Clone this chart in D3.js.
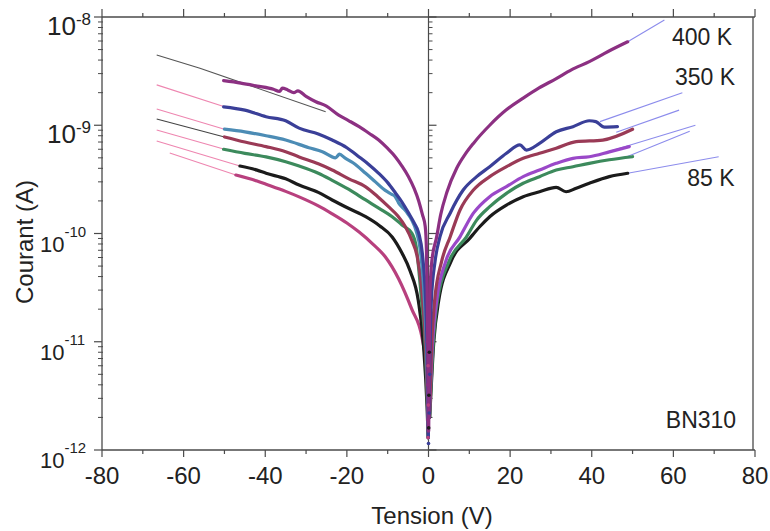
<!DOCTYPE html>
<html>
<head>
<meta charset="utf-8">
<script src="https://cdn.jsdelivr.net/npm/d3@7"></script>
<style>
  html, body { margin: 0; padding: 0; background: #fff; }
  svg { display: block; font-family: "Liberation Sans", Arial, sans-serif; }
</style>
</head>
<body>
<svg id="chart" width="770" height="531"></svg>
<script>
// ---------------- DATA ----------------
const xTicks = [-80, -60, -40, -20, 0, 20, 40, 60, 80];
const yDecades = [-8, -9, -10, -11, -12];
const xLabel = "Tension (V)";
const yLabel = "Courant (A)";
const tempLabels = ["400 K", "350 K", "85 K"];
const sampleLabel = "BN310";

// negative-voltage branches (V, I)
const neg400 = [[-50.2,2.58e-9],[-46,2.45e-9],[-42,2.3e-9],[-38,2.15e-9],[-36.5,2.05e-9],[-35.8,2.2e-9],[-34.5,2.12e-9],[-33,2.0e-9],[-32,2.08e-9],[-30,1.85e-9],[-27.6,1.65e-9],[-25,1.5e-9],[-22,1.24e-9],[-19.5,1.1e-9],[-17,9.7e-10],[-14.5,8.4e-10],[-12.2,7.3e-10],[-10,6.1e-10],[-8.1,5.1e-10],[-6.5,4.2e-10],[-4.9,3.35e-10],[-3.5,2.6e-10],[-2.4,2.0e-10],[-1.5,1.5e-10],[-0.8,1.16e-10],[-0.5,7e-11],[-0.3,2.4e-11],[-0.15,7e-12],[-0.05,1.5e-12]];
const negBlue = [[-50.2,1.48e-9],[-45,1.38e-9],[-39.8,1.2e-9],[-35,1.1e-9],[-31.7,9.4e-10],[-27,8.3e-10],[-23.6,7.3e-10],[-20,6.2e-10],[-17,5.1e-10],[-14.5,4.3e-10],[-12.2,3.6e-10],[-10,2.95e-10],[-8.1,2.37e-10],[-6.5,1.95e-10],[-4.9,1.55e-10],[-3.5,1.25e-10],[-2.4,1.01e-10],[-1.5,6.5e-11],[-0.7,2.4e-11],[-0.35,9e-12],[-0.1,2.5e-12],[-0.03,1.3e-12]];
const negLightBlue = [[-50,9.2e-10],[-45,8.7e-10],[-39.8,8.0e-10],[-35,7.3e-10],[-29.3,6.2e-10],[-26,5.7e-10],[-22.8,5.0e-10],[-21.8,5.4e-10],[-20.5,5.0e-10],[-18.5,4.5e-10],[-15.4,3.6e-10],[-13,3.0e-10],[-10.6,2.5e-10],[-9,2.3e-10],[-8.2,2.2e-10],[-7.3,1.91e-10],[-5.5,1.6e-10],[-4.1,1.33e-10],[-3,1.05e-10],[-2,7e-11],[-1.0,2.4e-11],[-0.5,9e-12],[-0.15,2.5e-12],[-0.04,1.3e-12]];
const negMaroon = [[-50,7.8e-10],[-45,7.0e-10],[-39.8,6.35e-10],[-35,5.7e-10],[-31.7,5.1e-10],[-27,4.4e-10],[-23.6,3.86e-10],[-19.5,3.2e-10],[-15.4,2.7e-10],[-12.5,2.2e-10],[-9.8,1.77e-10],[-7.5,1.45e-10],[-5.7,1.16e-10],[-4,8.5e-11],[-2.8,6.2e-11],[-1.4,2.4e-11],[-0.7,9e-12],[-0.2,2.5e-12],[-0.05,1.3e-12]];
const negGreen = [[-50.2,6.0e-10],[-45,5.5e-10],[-39.8,5.1e-10],[-35,4.6e-10],[-31.7,4.2e-10],[-27,3.6e-10],[-23.6,3.1e-10],[-19.5,2.55e-10],[-15.4,2.04e-10],[-12,1.7e-10],[-8.9,1.43e-10],[-6.5,1.2e-10],[-4.1,1.01e-10],[-3,7.5e-11],[-1.7,2.4e-11],[-0.8,9e-12],[-0.25,2.5e-12],[-0.06,1.3e-12]];
const negBlack = [[-46.2,4.2e-10],[-42,3.85e-10],[-39.8,3.6e-10],[-35,3.2e-10],[-31.7,2.8e-10],[-27,2.4e-10],[-23.6,2.04e-10],[-19.5,1.7e-10],[-15.4,1.43e-10],[-12,1.18e-10],[-8.9,9.3e-11],[-6.5,6.6e-11],[-4.5,4.5e-11],[-2.5,2.4e-11],[-1.2,9e-12],[-0.35,2.5e-12],[-0.08,1.3e-12]];
const negPink = [[-47.2,3.47e-10],[-42,3.05e-10],[-39.8,2.85e-10],[-35,2.45e-10],[-31.7,2.18e-10],[-27,1.8e-10],[-23.6,1.52e-10],[-20,1.25e-10],[-17,1.03e-10],[-13.5,7.9e-11],[-10.6,6.1e-11],[-7.3,3.8e-11],[-4.1,2.0e-11],[-1.6,1.1e-11],[-0.5,5.5e-12],[-0.1,1.4e-12]];

// positive-voltage branches (V, I)
const pos400 = [[0.05,1.5e-12],[0.15,5e-12],[0.3,2.4e-11],[0.8,5.5e-11],[2.0,9.3e-11],[3.0,1.5e-10],[4.5,2.4e-10],[6.9,4.0e-10],[9,5.4e-10],[11,6.8e-10],[15,1.0e-9],[19,1.38e-9],[23.2,1.78e-9],[27,2.2e-9],[31.3,2.7e-9],[35,3.25e-9],[39.4,3.87e-9],[44,4.8e-9],[48.8,5.9e-9]];
const posBlue = [[0.1,2e-12],[0.4,1e-11],[0.7,2.4e-11],[1.6,5.5e-11],[2.8,9.3e-11],[5.3,1.54e-10],[8.5,2.52e-10],[11.8,3.35e-10],[15,4.14e-10],[19.1,5.51e-10],[22.4,6.6e-10],[24,5.9e-10],[27.2,6.8e-10],[31.3,8.7e-10],[35.4,9.7e-10],[39.4,1.1e-9],[41,1.08e-9],[43.1,9.6e-10],[46.3,9.7e-10]];
const posMaroon = [[0.2,2e-12],[0.8,1e-11],[1.5,2.4e-11],[3.2,5.5e-11],[5.3,9.3e-11],[7.7,1.64e-10],[11,2.52e-10],[15,3.35e-10],[19.1,4.14e-10],[23.2,4.95e-10],[27.2,5.51e-10],[31.3,6.13e-10],[36.2,7.06e-10],[42.7,7.3e-10],[50,9.18e-10]];
const posViolet = [[0.2,2e-12],[1.0,1e-11],[2.0,2.4e-11],[4.2,5.5e-11],[7.7,9.3e-11],[11,1.54e-10],[15,2.19e-10],[19.1,2.71e-10],[23.2,3.35e-10],[27.2,3.86e-10],[31.3,4.45e-10],[35.4,4.95e-10],[39.4,5.12e-10],[44.3,5.68e-10],[49.2,6.34e-10]];
const posGreen = [[0.25,2e-12],[1.2,1e-11],[2.2,2.4e-11],[5,5.5e-11],[9.3,9.3e-11],[11.8,1.33e-10],[15,1.77e-10],[19.1,2.35e-10],[23.2,2.91e-10],[27.2,3.35e-10],[31.3,3.86e-10],[35.4,4.14e-10],[39.4,4.45e-10],[44.3,4.8e-10],[50,5.12e-10]];
const posBlack = [[0.3,2e-12],[1.3,1e-11],[2.5,2.4e-11],[5.5,5.5e-11],[10.2,9.1e-11],[12.6,1.16e-10],[15,1.43e-10],[19.1,1.83e-10],[23.2,2.19e-10],[27.2,2.43e-10],[31.3,2.67e-10],[33.7,2.43e-10],[36.2,2.62e-10],[39.4,2.91e-10],[44.3,3.35e-10],[48.8,3.6e-10]];

// scattered low-bias measurement points near V = 0 (V, I)
const zeroPoints = [[-0.3,1.0e-11],[0.2,8e-12],[-0.1,6e-12],[0.3,5e-12],[-0.2,4e-12],[0.1,3.2e-12],[-0.05,2.6e-12],[0.15,2.2e-12],[-0.15,1.9e-12],[0.05,1.6e-12],[-0.1,1.3e-12],[0.0,1.15e-12]];

// fitted extrapolations (thin lines)
const fitNeg = [
  [[-66.6,4.46e-9],[-56,3.36e-9],[-25.2,1.33e-9]],
  [[-66.6,2.36e-9],[-50,1.48e-9]],
  [[-66.6,1.41e-9],[-50,9.2e-10]],
  [[-66.6,1.14e-9],[-50,7.8e-10]],
  [[-66.6,9.04e-10],[-50,6.0e-10]],
  [[-66.6,7.16e-10],[-46.2,4.2e-10]],
  [[-63.4,5.54e-10],[-47.2,3.47e-10]]
];
const fitPos = [
  [[48.8,5.9e-9],[57.8,9.4e-9]],
  [[42,1.08e-9],[62.2,2.0e-9]],
  [[46,8.6e-10],[61.4,1.38e-9]],
  [[44,5.7e-10],[65.4,1.0e-9]],
  [[48,5.0e-10],[64,8.8e-10]],
  [[48.8,3.6e-10],[71.1,5.12e-10]]
];

// ---------------- STYLE ----------------
const colors = {
  c400: "#8c3082", blue: "#3a3f98", lightBlue: "#4c8cb5", maroon: "#9a3a56",
  green: "#3c8a5c", black: "#1b1b1b", pink: "#b8407e", violet: "#9a48c8"
};
const negSeries = [
  {d: negPink, c: colors.pink}, {d: negBlack, c: colors.black}, {d: negGreen, c: colors.green},
  {d: negMaroon, c: colors.maroon}, {d: negLightBlue, c: colors.lightBlue}, {d: negBlue, c: colors.blue},
  {d: neg400, c: colors.c400}
];
const posSeries = [
  {d: posBlack, c: colors.black}, {d: posGreen, c: colors.green}, {d: posViolet, c: colors.violet},
  {d: posMaroon, c: colors.maroon}, {d: posBlue, c: colors.blue}, {d: pos400, c: colors.c400}
];
const fitNegColors = ["#555555", "#ee86b0", "#ee86b0", "#444444", "#ee86b0", "#ee86b0", "#ee86b0"];
const fitPosColor = "#8c8cec";
const zeroColors = ["#8c3082", "#1b1b1b", "#b8407e", "#3a3f98"];

// ---------------- CHART ----------------
const svg = d3.select("#chart");
const L = 102, R = 755, T = 17, B = 450;
const x = d3.scaleLinear().domain([-80, 80]).range([L, R]);
const y = d3.scaleLog().domain([1e-12, 1e-8]).range([B, T]);
const axisColor = "#4a4a4a";
const textColor = "#222";

svg.append("defs").append("clipPath").attr("id", "clip")
  .append("rect").attr("x", L).attr("y", T).attr("width", R - L).attr("height", B - T);

// frame lines
const frame = svg.append("g").attr("stroke", axisColor).attr("stroke-width", 1.3).attr("fill", "none");
frame.append("line").attr("x1", L).attr("x2", L).attr("y1", T).attr("y2", B);
frame.append("line").attr("x1", R - 2).attr("x2", R - 2).attr("y1", T).attr("y2", B);
frame.append("line").attr("x1", L).attr("x2", R).attr("y1", T).attr("y2", T);
frame.append("line").attr("x1", L).attr("x2", R).attr("y1", B).attr("y2", B);

const allX = d3.range(-80, 81, 10);
// top ticks (outward)
svg.append("g").selectAll("line").data(allX).join("line")
  .attr("x1", d => x(d)).attr("x2", d => x(d))
  .attr("y1", T).attr("y2", d => T - (d % 20 === 0 ? 8 : 4))
  .attr("stroke", axisColor).attr("stroke-width", 1.2);
// bottom ticks (outward)
svg.append("g").selectAll("line").data(allX).join("line")
  .attr("x1", d => x(d)).attr("x2", d => x(d))
  .attr("y1", B).attr("y2", d => B + (d % 20 === 0 ? 7 : 4))
  .attr("stroke", axisColor).attr("stroke-width", 1.2);

// log minor ticks
const minorY = [];
for (let e = -12; e < -8; e++) for (let m = 2; m <= 9; m++) minorY.push(m * Math.pow(10, e));
const majorY = yDecades.map(e => Math.pow(10, e));
// left axis ticks
svg.append("g").selectAll("line").data(minorY).join("line")
  .attr("x1", L - 4).attr("x2", L + 1).attr("y1", d => y(d)).attr("y2", d => y(d))
  .attr("stroke", axisColor).attr("stroke-width", 1);
svg.append("g").selectAll("line").data(majorY).join("line")
  .attr("x1", L - 8).attr("x2", L).attr("y1", d => y(d)).attr("y2", d => y(d))
  .attr("stroke", axisColor).attr("stroke-width", 1.2);
// center axis at V = 0
svg.append("line").attr("x1", x(0)).attr("x2", x(0)).attr("y1", T).attr("y2", B)
  .attr("stroke", axisColor).attr("stroke-width", 1.2);
svg.append("g").selectAll("line").data(minorY).join("line")
  .attr("x1", x(0)).attr("x2", x(0) + 4).attr("y1", d => y(d)).attr("y2", d => y(d))
  .attr("stroke", axisColor).attr("stroke-width", 1);
svg.append("g").selectAll("line").data(majorY).join("line")
  .attr("x1", x(0)).attr("x2", x(0) + 8).attr("y1", d => y(d)).attr("y2", d => y(d))
  .attr("stroke", axisColor).attr("stroke-width", 1.2);

// y tick labels 10^n
yDecades.forEach(e => {
  const big = e >= -9;
  const t = svg.append("text").attr("fill", textColor)
    .attr("x", big ? 47 : 40).attr("y", y(Math.pow(10, e)) + 18);
  t.append("tspan").attr("font-size", big ? 26 : 22).text("10");
  t.append("tspan").attr("font-size", big ? 17 : 15).attr("dy", big ? -10 : -15).text(String(e));
});

// x tick labels
svg.append("g").selectAll("text").data(xTicks).join("text")
  .attr("x", d => x(d)).attr("y", 484).attr("text-anchor", "middle")
  .attr("font-size", 24).attr("fill", textColor).text(d => d);

// axis titles
svg.append("text").attr("x", 432).attr("y", 524).attr("text-anchor", "middle")
  .attr("font-size", 24).attr("fill", textColor).text(xLabel);
svg.append("text").attr("transform", "translate(33,242) rotate(-90)").attr("text-anchor", "middle")
  .attr("font-size", 24).attr("fill", textColor).text(yLabel);

// curves
const plot = svg.append("g").attr("clip-path", "url(#clip)");
const line = d3.line().x(d => x(d[0])).y(d => y(d[1])).curve(d3.curveMonotoneX);
const straight = d3.line().x(d => x(d[0])).y(d => y(d[1]));

fitNeg.forEach((f, i) => plot.append("path").attr("d", straight(f)).attr("fill", "none")
  .attr("stroke", fitNegColors[i]).attr("stroke-width", 1.1));
fitPos.forEach(f => plot.append("path").attr("d", straight(f)).attr("fill", "none")
  .attr("stroke", fitPosColor).attr("stroke-width", 1.1));

negSeries.concat(posSeries).forEach(s => plot.append("path").attr("d", line(s.d)).attr("fill", "none")
  .attr("stroke", s.c).attr("stroke-width", 3.2).attr("stroke-linejoin", "round").attr("stroke-linecap", "round"));

plot.append("g").selectAll("circle").data(zeroPoints).join("circle")
  .attr("cx", d => x(d[0])).attr("cy", d => y(d[1])).attr("r", 1.8)
  .attr("fill", (d, i) => zeroColors[i % zeroColors.length]);

// annotations
const ann = [
  {t: tempLabels[0], x: 702, y: 45},
  {t: tempLabels[1], x: 705, y: 85},
  {t: tempLabels[2], x: 711, y: 186},
  {t: sampleLabel, x: 701, y: 428}
];
svg.append("g").selectAll("text").data(ann).join("text")
  .attr("x", d => d.x).attr("y", d => d.y).attr("text-anchor", "middle")
  .attr("font-size", 23).attr("fill", textColor).text(d => d.t);
</script>
</body>
</html>
